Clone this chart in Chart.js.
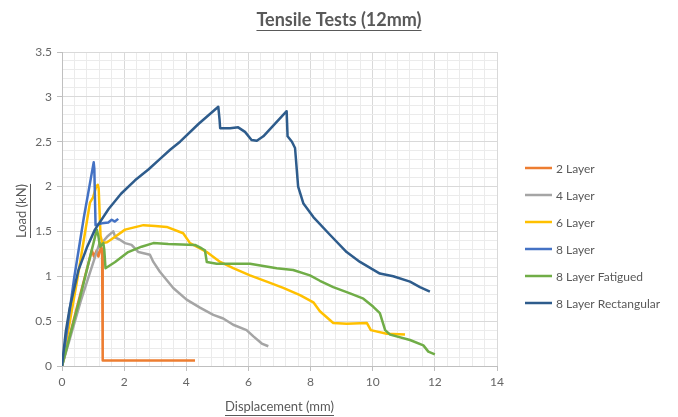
<!DOCTYPE html>
<html>
<head>
<meta charset="utf-8">
<script src="https://cdn.jsdelivr.net/npm/chart.js@4/dist/chart.umd.min.js"></script>
<style>
  body { margin: 0; background: #fff; }
</style>
</head>
<body>
<canvas id="chart" width="678" height="417"></canvas>
<script>
const chartTitle = 'Tensile Tests (12mm)';
const xTitle = 'Displacement (mm)';
const yTitle = 'Load (kN)';

const seriesNames = ['2 Layer', '4 Layer', '6 Layer', '8 Layer', '8 Layer Fatigued', '8 Layer Rectangular'];
const seriesColours = ['#ED7D31', '#A5A5A5', '#FFC000', '#4472C4', '#70AD47', '#2E5C8C'];

// displacement (mm) / load (kN)
const disp2 = [0, 0.47, 0.96, 1.03, 1.12, 1.17, 1.26, 1.29, 1.31, 2.5, 4.28];
const load2 = [0, 0.64, 1.29, 1.22, 1.29, 1.22, 1.33, 1.29, 0.06, 0.06, 0.06];

const disp4 = [0, 0.6, 1.2, 1.3, 1.45, 1.65, 1.72, 1.85, 2.03, 2.24, 2.46, 2.83, 2.94, 3.15, 3.58, 4.01, 4.44, 4.87, 5.19, 5.51, 5.94, 6.16, 6.43, 6.64];
const load4 = [0, 0.72, 1.36, 1.38, 1.44, 1.5, 1.43, 1.41, 1.37, 1.35, 1.27, 1.24, 1.16, 1.05, 0.87, 0.74, 0.65, 0.57, 0.53, 0.46, 0.4, 0.33, 0.25, 0.22];

const disp6 = [0, 0.5, 0.9, 1.0, 1.1, 1.15, 1.18, 1.24, 1.3, 1.45, 1.71, 2.03, 2.62, 3.0, 3.37, 3.9, 4.12, 4.44, 4.66, 5.09, 5.51, 6.05, 6.59, 7.12, 7.66, 8.09, 8.3, 8.73, 9.16, 9.81, 9.94, 10.45, 11.04];
const load6 = [0, 0.98, 1.82, 1.88, 2.0, 2.02, 1.98, 1.45, 1.37, 1.38, 1.44, 1.52, 1.57, 1.56, 1.55, 1.48, 1.37, 1.31, 1.27, 1.16, 1.09, 1.01, 0.94, 0.87, 0.79, 0.71, 0.61, 0.48, 0.47, 0.48, 0.4, 0.36, 0.35];

const disp8 = [0, 0.4, 0.7, 1.02, 1.04, 1.08, 1.28, 1.49, 1.6, 1.7, 1.81];
const load8 = [0, 1.0, 1.65, 2.27, 2.2, 1.57, 1.59, 1.6, 1.63, 1.61, 1.64];

const dispFat = [0, 0.55, 1.12, 1.17, 1.22, 1.33, 1.36, 1.4, 1.71, 2.13, 2.56, 2.94, 3.42, 4.28, 4.5, 4.6, 4.66, 4.98, 6.05, 6.91, 7.44, 7.98, 8.3, 8.73, 9.27, 9.7, 10.02, 10.23, 10.4, 10.56, 11.2, 11.63, 11.79, 12.0];
const loadFat = [0, 0.72, 1.52, 1.45, 1.33, 1.37, 1.3, 1.09, 1.16, 1.27, 1.33, 1.37, 1.36, 1.35, 1.31, 1.29, 1.16, 1.14, 1.14, 1.09, 1.07, 1.01, 0.95, 0.88, 0.81, 0.75, 0.66, 0.59, 0.4, 0.35, 0.29, 0.23, 0.16, 0.13];

const dispRect = [0, 0.12, 0.25, 0.53, 0.8, 1.06, 1.5, 1.9, 2.35, 2.78, 3.13, 3.48, 3.8, 4.4, 5.03, 5.07, 5.09, 5.41, 5.67, 5.89, 6.1, 6.27, 6.48, 7.23, 7.26, 7.4, 7.5, 7.6, 7.77, 8.09, 8.63, 9.16, 9.59, 10.23, 10.66, 11.2, 11.52, 11.84];
const loadRect = [0, 0.38, 0.65, 1.07, 1.32, 1.52, 1.75, 1.92, 2.07, 2.19, 2.3, 2.41, 2.5, 2.7, 2.89, 2.75, 2.65, 2.65, 2.66, 2.61, 2.52, 2.51, 2.56, 2.84, 2.56, 2.5, 2.43, 2.0, 1.81, 1.66, 1.46, 1.27, 1.16, 1.03, 1.0, 0.94, 0.88, 0.83];

const xTicks = { min: 0, max: 14, major: 2, minor: 0.4 };
const yTicks = { min: 0, max: 3.5, major: 0.5, minor: 0.1 };

const seriesDisp = [disp2, disp4, disp6, disp8, dispFat, dispRect];
const seriesLoad = [load2, load4, load6, load8, loadFat, loadRect];

const fontFamily = 'Lato, "Liberation Sans", sans-serif';
const textGrey = '#595959';

const isMultiple = (v, step) => Math.abs(v / step - Math.round(v / step)) < 1e-6;

const datasets = seriesNames.map((name, i) => ({
    label: name,
    data: seriesDisp[i].map((x, j) => ({ x: x, y: seriesLoad[i][j] })),
    borderColor: seriesColours[i],
    backgroundColor: seriesColours[i],
    borderWidth: 2.5,
    borderJoinStyle: 'round',
    pointRadius: 0,
    showLine: true,
    tension: 0,
    order: -i
}));

const drawUnderlined = (ctx, text, x, y, size, bold, angle) => {
    ctx.save();
    ctx.translate(x, y);
    ctx.rotate(angle);
    ctx.font = (bold ? 'bold ' : '') + size + 'px ' + fontFamily;
    ctx.fillStyle = textGrey;
    ctx.strokeStyle = textGrey;
    ctx.textAlign = 'center';
    ctx.textBaseline = 'middle';
    ctx.fillText(text, 0, 0);
    const w = ctx.measureText(text).width;
    const off = Math.round(size * 0.58) + 0.5;
    ctx.lineWidth = 1;
    ctx.beginPath();
    ctx.moveTo(-w / 2, off);
    ctx.lineTo(w / 2, off);
    ctx.stroke();
    ctx.restore();
};

const textPlugin = {
    id: 'textPlugin',
    afterDraw(chart) {
        const ctx = chart.ctx;
        const area = chart.chartArea;
        drawUnderlined(ctx, chartTitle, 339, 20, 18, true, 0);
        drawUnderlined(ctx, xTitle, (area.left + area.right) / 2, 407, 13, false, 0);
        drawUnderlined(ctx, yTitle, 22, 211, 13, false, -Math.PI / 2);

        // legend
        ctx.save();
        ctx.font = '12px ' + fontFamily;
        ctx.textBaseline = 'middle';
        ctx.textAlign = 'left';
        seriesNames.forEach((name, i) => {
            const y = 168 + i * 27;
            ctx.strokeStyle = seriesColours[i];
            ctx.lineWidth = 2.5;
            ctx.beginPath();
            ctx.moveTo(525, y);
            ctx.lineTo(552, y);
            ctx.stroke();
            ctx.fillStyle = textGrey;
            ctx.fillText(name, 556, y + 1);
        });
        ctx.restore();
    }
};

const gridColour = (step) => (c) => isMultiple(c.tick.value, step) ? '#d9d9d9' : '#ebebeb';
const tickMarkColour = (step) => (c) => isMultiple(c.tick.value, step) ? '#bfbfbf' : 'rgba(0,0,0,0)';

new Chart(document.getElementById('chart'), {
    type: 'scatter',
    data: { datasets },
    options: {
        responsive: false,
        animation: false,
        layout: { padding: { top: 52, right: 181, bottom: 0, left: 0 } },
        plugins: {
            legend: { display: false },
            title: { display: false },
            tooltip: { enabled: false }
        },
        scales: {
            x: {
                type: 'linear',
                min: xTicks.min,
                max: xTicks.max,
                afterFit: s => { s.height = 51; },
                border: { color: '#bfbfbf' },
                grid: { color: gridColour(xTicks.major), tickColor: tickMarkColour(xTicks.major), tickLength: 5 },
                ticks: {
                    stepSize: xTicks.minor,
                    maxTicksLimit: 100,
                    autoSkip: false,
                    maxRotation: 0,
                    padding: 4,
                    color: '#666',
                    font: { family: fontFamily, size: 12 },
                    callback: v => isMultiple(v, xTicks.major) ? String(Math.round(v)) : ''
                }
            },
            y: {
                type: 'linear',
                min: yTicks.min,
                max: yTicks.max,
                afterFit: s => { s.width = 62; },
                border: { color: '#bfbfbf' },
                grid: { color: gridColour(yTicks.major), tickColor: tickMarkColour(yTicks.major), tickLength: 5 },
                ticks: {
                    stepSize: yTicks.minor,
                    maxTicksLimit: 100,
                    autoSkip: false,
                    padding: 5,
                    color: '#666',
                    font: { family: fontFamily, size: 12 },
                    callback: v => isMultiple(v, yTicks.major) ? String(Math.round(v * 10) / 10) : ''
                }
            }
        }
    },
    plugins: [textPlugin]
});
</script>
</body>
</html>
